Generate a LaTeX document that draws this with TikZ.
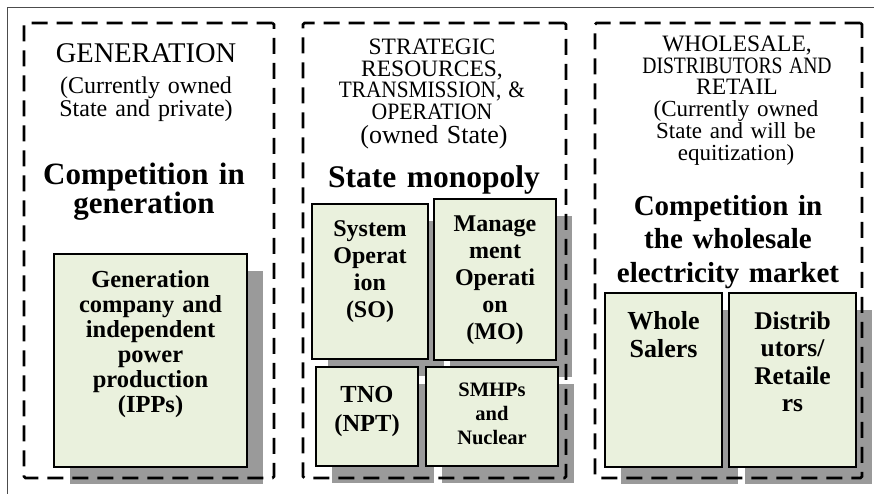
\documentclass[tikz,border=0pt]{standalone}
\usepackage{fontspec}
\setmainfont{Liberation Serif}
\usetikzlibrary{fit}

\definecolor{boxfill}{HTML}{EAF1DD}
\definecolor{shadowgray}{HTML}{9A9A9A}

\tikzset{
  frame/.style={draw=black!70, line width=0.9pt},
  zone/.style={draw=black, line width=2.6pt, dash pattern=on 16pt off 9pt, rounded corners=1.5pt},
  unitbox/.style={draw=black, line width=1.4pt, fill=boxfill, inner sep=0pt},
  shade/.style={fill=shadowgray},
  txt/.style={text width=#1, align=center, anchor=base, inner sep=0pt},
  sz/.style 2 args={font=\fontsize{#1}{#2}\selectfont},
  bsz/.style 2 args={font=\fontsize{#1}{#2}\selectfont\bfseries},
}

% shadowed unit box: name, x1, y1, x2, y2
\newcommand\placeunit[5]{%
  \fill[shade, shift={(16,17)}] (#2,#3) rectangle (#4,#5);
  \node[unitbox, fit={(#2,#3) (#4,#5)}] (#1) {};
}
% horizontally condensed line
\newcommand\squeeze[2]{\scalebox{#1}[1]{#2}}

\begin{document}
\lineskiplimit=-100pt
\begin{tikzpicture}[x=1pt, y=-1pt]
\useasboundingbox (0,0) rectangle (874,494);

% outer frame (continues past the right and bottom edges)
\draw[frame] (7,494) -- (7,7) -- (874,7);

% ---------- unit boxes with drop shadows ----------
\placeunit{ipp}{54}{254}{247}{467}
\placeunit{so}{312}{204}{428}{359}
\placeunit{mo}{434}{199}{556}{360}
\placeunit{tno}{316}{367}{418}{466}
\placeunit{smhp}{426}{367}{558}{466}
\placeunit{whole}{605}{293}{722}{467}
\placeunit{distr}{729}{293}{856}{467}

% ---------- market zones ----------
\node[zone, inner sep=0pt, fit={(24,23) (274,478)}] (genzone) {};
\node[zone, inner sep=0pt, fit={(303,23) (566,478)}] (statezone) {};
\node[zone, inner sep=0pt, fit={(595,23) (862,478)}] (retailzone) {};

% ---------- generation column ----------
\node[txt=240pt, sz={28.5}{28}] (gentitle) at (146,63) {GENERATION};
\node[txt=240pt, sz={24}{21}] (genown) at (146,93.5) {(Currently owned\\State and private)};
\node[txt=240pt, bsz={31}{29}] (gencomp) at (144,185) {Competition in\\generation};

% ---------- state column ----------
\node[txt=250pt, sz={23.5}{21.4}] (statetitle) at (432,55)
  {STRATEGIC\\RESOURCES,\\\squeeze{0.905}{TRANSMISSION, \&}\\\squeeze{0.925}{OPERATION}};
\node[txt=250pt, sz={26}{25}] (stateown) at (434,144) {(owned State)};
\node[txt=250pt, bsz={31.5}{30}] (statemono) at (434,188) {State monopoly};

% ---------- wholesale / retail column ----------
\node[txt=260pt, sz={23.5}{21.5}] (rettitle) at (737,52)
  {WHOLESALE,\\\squeeze{0.835}{DISTRIBUTORS AND}\\RETAIL};
\node[txt=260pt, sz={23}{21.7}] (retown) at (736,117)
  {(Currently owned\\State and will be\\equitization)};
\node[txt=260pt, bsz={29}{33.5}] (retcomp) at (728,215)
  {Competition in\\the wholesale\\electricity market};

% ---------- box texts ----------
\node[txt=190pt, bsz={24.5}{25}] at ([yshift=-34pt]ipp.north)
  {Generation\\company and\\independent\\power\\production\\(IPPs)};
\node[txt=115pt, bsz={24}{27}] at ([yshift=-33pt]so.north)
  {System\\Operat\\ion\\(SO)};
\node[txt=120pt, bsz={24}{27}] at ([yshift=-33pt]mo.north)
  {Manage\\ment\\Operati\\on\\(MO)};
\node[txt=100pt, bsz={24.5}{29}] at ([yshift=-36pt]tno.north)
  {TNO\\(NPT)};
\node[txt=130pt, bsz={20.5}{24}] at ([yshift=-30pt]smhp.north)
  {SMHPs\\and\\Nuclear};
\node[txt=115pt, bsz={26}{28}] at ([yshift=-37pt]whole.north)
  {Whole\\Salers};
\node[txt=125pt, bsz={25.5}{27.5}] at ([yshift=-37pt]distr.north)
  {Distrib\\utors/\\Retaile\\rs};
\end{tikzpicture}
\end{document}
